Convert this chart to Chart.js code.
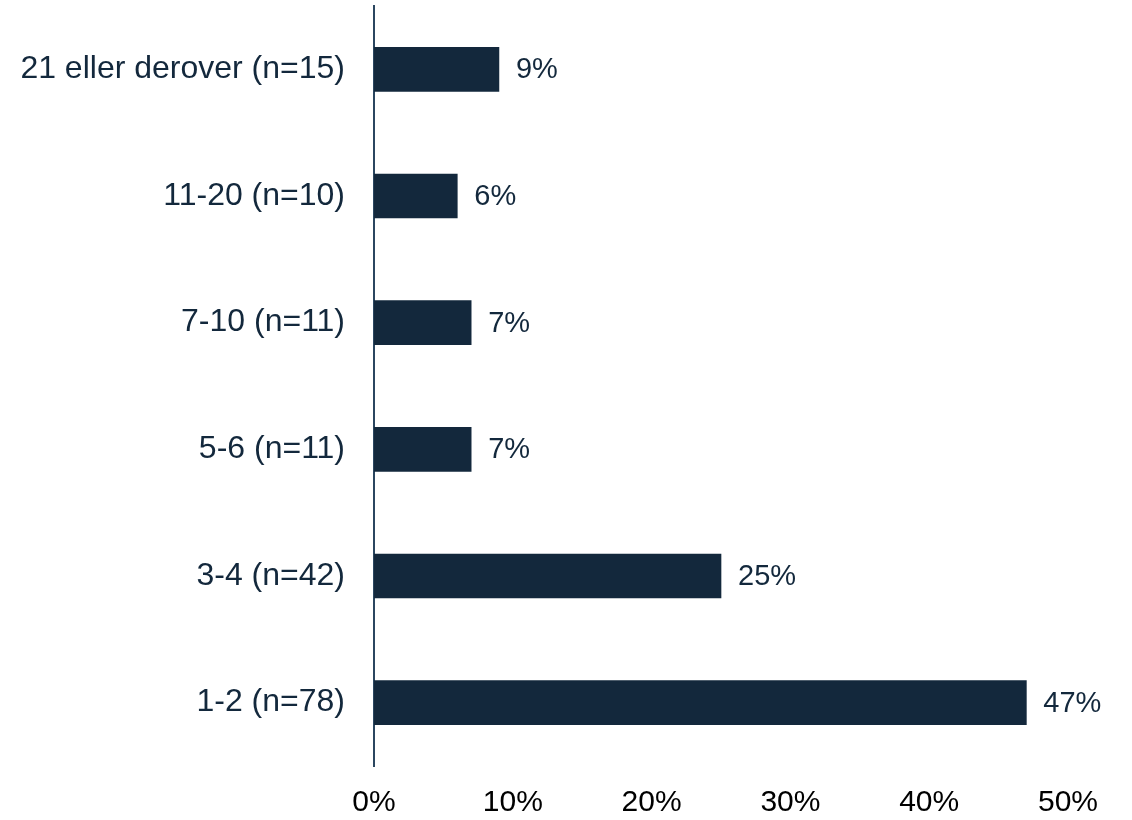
<!DOCTYPE html>
<html>
<head>
<meta charset="utf-8">
<script src="https://cdn.jsdelivr.net/npm/chart.js@4.4.1/dist/chart.umd.min.js"></script>
<style>
  html, body { margin: 0; padding: 0; background: #ffffff; }
  #wrap { width: 1132px; height: 820px; position: relative; }
</style>
</head>
<body>
<div id="wrap"><canvas id="chart" width="1132" height="820"></canvas></div>
<script>
// Categories (top to bottom) and their shares in percent
const categories = [
  '21 eller derover (n=15)',
  '11-20 (n=10)',
  '7-10 (n=11)',
  '5-6 (n=11)',
  '3-4 (n=42)',
  '1-2 (n=78)'
];
const shares = [9, 6, 7, 7, 25, 47];
const xTicks = [0, 10, 20, 30, 40, 50];

const NAVY = '#13283c';

// Writes the value next to the end of every bar
const valueLabels = {
  id: 'valueLabels',
  afterDatasetsDraw(chart) {
    const ctx = chart.ctx;
    const meta = chart.getDatasetMeta(0);
    ctx.save();
    ctx.font = '29px "Liberation Sans", Arial, sans-serif';
    ctx.fillStyle = NAVY;
    ctx.textAlign = 'left';
    ctx.textBaseline = 'middle';
    meta.data.forEach((bar, i) => {
      ctx.fillText(shares[i] + '%', bar.x + 17, bar.y + 1);
    });
    ctx.restore();
  }
};

new Chart(document.getElementById('chart'), {
  type: 'bar',
  data: {
    labels: categories,
    datasets: [{
      data: shares,
      backgroundColor: NAVY,
      borderWidth: 0,
      barThickness: 44
    }]
  },
  options: {
    indexAxis: 'y',
    responsive: false,
    animation: false,
    layout: { padding: { top: 6, right: 64, bottom: 0, left: 0 } },
    plugins: {
      legend: { display: false },
      tooltip: { enabled: false }
    },
    scales: {
      x: {
        min: 0,
        max: 50,
        afterBuildTicks(scale) {
          scale.ticks = xTicks.map(v => ({ value: v }));
        },
        afterFit(scale) { scale.height = 54; },
        grid: { display: false, drawTicks: false },
        border: { display: false },
        ticks: {
          padding: 19,
          color: '#000000',
          font: { family: '"Liberation Sans", Arial, sans-serif', size: 30 },
          callback: v => v + '%',
          maxRotation: 0
        }
      },
      y: {
        afterFit(scale) {
          scale.width = 374;
          scale.paddingTop = 0;
          scale.paddingBottom = 0;
        },
        grid: { display: false, drawTicks: false },
        border: { display: true, color: '#2b4660', width: 2 },
        ticks: {
          padding: 29,
          color: NAVY,
          font: { family: '"Liberation Sans", Arial, sans-serif', size: 32 }
        }
      }
    }
  },
  plugins: [valueLabels]
});
</script>
</body>
</html>
